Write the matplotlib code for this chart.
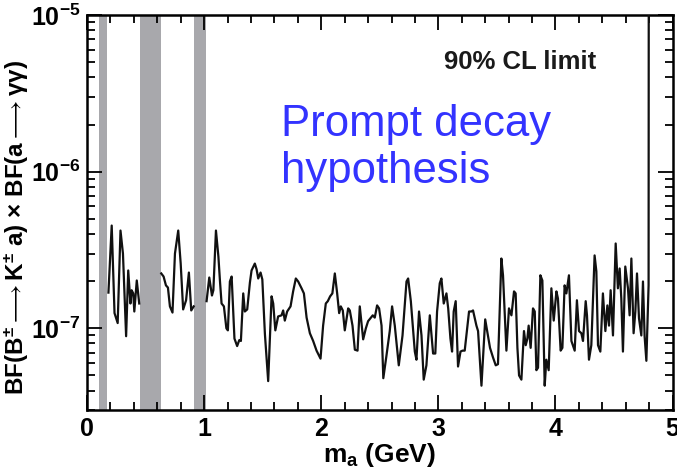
import numpy as np
import matplotlib
matplotlib.use("Agg")
import matplotlib.pyplot as plt
from matplotlib.ticker import MultipleLocator, FixedLocator, FuncFormatter, NullFormatter

plt.rcParams['font.family'] = ['Liberation Sans', 'DejaVu Sans']
plt.rcParams['mathtext.fontset'] = 'custom'
plt.rcParams['mathtext.rm'] = 'Liberation Sans:bold'
plt.rcParams['mathtext.it'] = 'Liberation Sans:bold'
plt.rcParams['mathtext.bf'] = 'Liberation Sans:bold'
plt.rcParams['mathtext.sf'] = 'Liberation Sans:bold'

# ---- data (limit values in units of 1e-7) ----
mass_a = [0.183, 0.211, 0.235, 0.262, 0.286, 0.307, 0.334, 0.352, 0.371, 0.381,
          0.395, 0.404, 0.425, 0.446]
limit_a = [1.69, 4.53, 1.25, 1.08, 4.21, 3.0, 0.89, 2.34, 1.44, 1.75,
           1.67, 1.28, 2.02, 1.44]

mass_b = [0.634, 0.654, 0.674, 0.691, 0.708, 0.730, 0.751, 0.779, 0.800, 0.821,
          0.846, 0.870, 0.890, 0.911]
limit_b = [2.24, 2.14, 1.88, 1.82, 1.38, 1.26, 3.0, 4.21, 2.59, 1.32,
           1.51, 2.27, 1.30, 1.38]

mass_c = [1.021, 1.044, 1.067, 1.079, 1.101, 1.122, 1.135, 1.149, 1.169, 1.190,
          1.203, 1.220, 1.235, 1.259, 1.282, 1.300, 1.314, 1.334, 1.348, 1.368,
          1.391, 1.405, 1.433, 1.448, 1.462, 1.482, 1.497, 1.506, 1.519, 1.547,
          1.576, 1.590, 1.608, 1.632, 1.661, 1.675, 1.689, 1.709, 1.738, 1.760,
          1.783, 1.803, 1.832, 1.852, 1.875, 1.903, 1.931, 1.960, 1.994, 2.016,
          2.039, 2.056, 2.076, 2.095, 2.116, 2.136, 2.153, 2.167, 2.184, 2.201,
          2.230, 2.244, 2.267, 2.287, 2.310, 2.329, 2.358, 2.381, 2.400, 2.421,
          2.440, 2.457, 2.477, 2.494, 2.515, 2.530, 2.557, 2.585, 2.605, 2.628,
          2.662, 2.694, 2.728, 2.742, 2.765, 2.799, 2.813, 2.835, 2.856, 2.875,
          2.898, 2.927, 2.955, 2.974, 2.989, 3.012, 3.026, 3.046, 3.069, 3.084,
          3.103, 3.117, 3.131, 3.148, 3.168, 3.189, 3.206, 3.225, 3.262, 3.282,
          3.296, 3.325, 3.339, 3.368, 3.387, 3.400, 3.417, 3.441, 3.467, 3.490,
          3.509, 3.538, 3.552, 3.581, 3.603, 3.624, 3.646, 3.660, 3.675, 3.689,
          3.709, 3.731, 3.746, 3.760, 3.771, 3.788, 3.808, 3.823, 3.837, 3.851,
          3.871, 3.888, 3.908, 3.922, 3.942, 3.965, 3.985, 4.008, 4.021, 4.044,
          4.059, 4.078, 4.093, 4.115, 4.136, 4.164, 4.183, 4.201, 4.221, 4.235,
          4.258, 4.269, 4.286, 4.306, 4.334, 4.349, 4.363, 4.383, 4.405, 4.426,
          4.443, 4.457, 4.471, 4.491, 4.514, 4.533, 4.548, 4.562, 4.576, 4.596,
          4.619, 4.633, 4.648, 4.667, 4.682, 4.696, 4.713, 4.733, 4.747, 4.761,
          4.776, 4.795, 4.797]
limit_c = [1.49, 2.11, 1.62, 1.75, 4.21, 2.87, 2.02, 1.44, 1.38, 1.0,
           0.97, 1.99, 2.14, 0.86, 0.77, 0.84, 0.83, 1.67, 1.28, 1.32,
           1.96, 2.34, 2.59, 2.38, 2.08, 2.27, 2.05, 1.49, 0.92, 0.46,
           1.60, 1.44, 0.97, 1.19, 1.21, 1.30, 1.12, 1.28, 1.38, 1.72,
           2.08, 1.99, 1.80, 1.67, 1.17, 0.93, 0.83, 0.72, 0.64, 1.04,
           1.44, 1.49, 1.60, 1.67, 2.24, 1.67, 1.25, 1.38, 1.30, 0.97,
           1.34, 1.30, 1.04, 0.73, 0.72, 1.38, 0.85, 1.0, 1.11, 1.16,
           1.21, 1.17, 1.40, 1.34, 1.04, 0.48, 0.67, 0.96, 1.38, 1.04,
           0.58, 0.90, 1.99, 2.08, 1.49, 0.71, 0.63, 1.28, 0.90, 0.47,
           0.58, 1.21, 0.69, 0.69, 1.28, 1.94, 2.08, 1.44, 1.67, 1.34,
           0.86, 0.71, 1.28, 1.49, 0.57, 0.71, 0.72, 0.72, 1.28, 1.28,
           1.30, 1.04, 0.96, 0.43, 0.78, 1.14, 0.96, 0.75, 0.65, 0.58,
           0.59, 2.79, 2.18, 0.72, 1.34, 1.21, 1.72, 1.67, 0.75, 0.50,
           0.47, 0.96, 0.78, 0.86, 1.04, 0.75, 1.34, 1.28, 0.54, 0.56,
           2.18, 2.02, 0.43, 0.63, 0.54, 1.80, 1.12, 1.72, 1.55, 0.72,
           0.75, 1.88, 1.67, 2.18, 0.83, 0.72, 1.51, 0.96, 0.93, 0.83,
           1.49, 1.21, 0.63, 0.78, 2.92, 2.31, 0.78, 0.71, 1.67, 0.96,
           1.40, 1.04, 1.75, 0.90, 3.48, 1.80, 2.41, 1.55, 0.71, 2.48,
           1.80, 1.21, 2.79, 0.93, 1.28, 2.24, 1.16, 0.90, 1.99, 0.89,
           0.62, 1.88, 1000.0]

veto_lo = [0.10, 0.45, 0.915]
veto_hi = [0.175, 0.63, 1.015]

unit = 1e-7

fig = plt.figure(figsize=(6.77, 4.72), dpi=100)
ax = fig.add_axes([0.1285, 0.131, 0.865, 0.837])

for lo, hi in zip(veto_lo, veto_hi):
    ax.axvspan(lo, hi, color='#a8a8ac', lw=0, zorder=1)

for m, l in ((mass_a, limit_a), (mass_b, limit_b), (mass_c, limit_c)):
    ax.plot(m, np.array(l) * unit, color='#111111', lw=1.6, zorder=3)

ax.set_yscale('log')
ax.set_xlim(0, 5)
ax.set_ylim(3e-8, 1e-5)

ax.xaxis.set_major_locator(MultipleLocator(1))
ax.xaxis.set_minor_locator(MultipleLocator(0.2))
ax.xaxis.set_major_formatter(FuncFormatter(lambda v, p: f'{int(round(v))}'))

ax.yaxis.set_major_locator(FixedLocator([1e-7, 1e-6, 1e-5]))
minors = [k * 10.0 ** e for e in (-8, -7, -6) for k in range(2, 10)]
ax.yaxis.set_minor_locator(FixedLocator(minors))
ax.yaxis.set_minor_formatter(NullFormatter())
ax.yaxis.set_major_formatter(FuncFormatter(
    lambda v, p: r'$10^{%d}$' % int(round(np.log10(v)))))

ax.tick_params(which='both', direction='in', top=True, right=True, width=1.3)
ax.tick_params(axis='y', which='major', length=11, labelsize=18, pad=5)
ax.tick_params(axis='x', which='major', length=11, labelsize=18, pad=5)
ax.tick_params(which='minor', length=6)
for lab in ax.get_xticklabels():
    lab.set_fontweight('bold')
for s in ax.spines.values():
    s.set_linewidth(1.8)

ax.set_xlabel(r'm$_{a}$ (GeV)', fontsize=19, fontweight='bold', labelpad=0)
ax.set_ylabel(r'BF(B$^{\pm}\longrightarrow$K$^{\pm}$ a) $\times$ BF(a$\longrightarrow\gamma\gamma$)',
              fontsize=17.5, fontweight='bold')
ax.yaxis.set_label_coords(-0.095, 0.462)

ax.text(0.869, 0.881, '90% CL limit', transform=ax.transAxes, fontsize=18.5,
        fontweight='bold', ha='right', va='center', color='#1a1a1a')
ax.text(0.331, 0.722, 'Prompt decay', transform=ax.transAxes,
        fontsize=31.5, color='#3333ff', ha='left', va='center')
ax.text(0.331, 0.603, 'hypothesis', transform=ax.transAxes,
        fontsize=31.5, color='#3333ff', ha='left', va='center')

fig.savefig('out.png', dpi=100)
